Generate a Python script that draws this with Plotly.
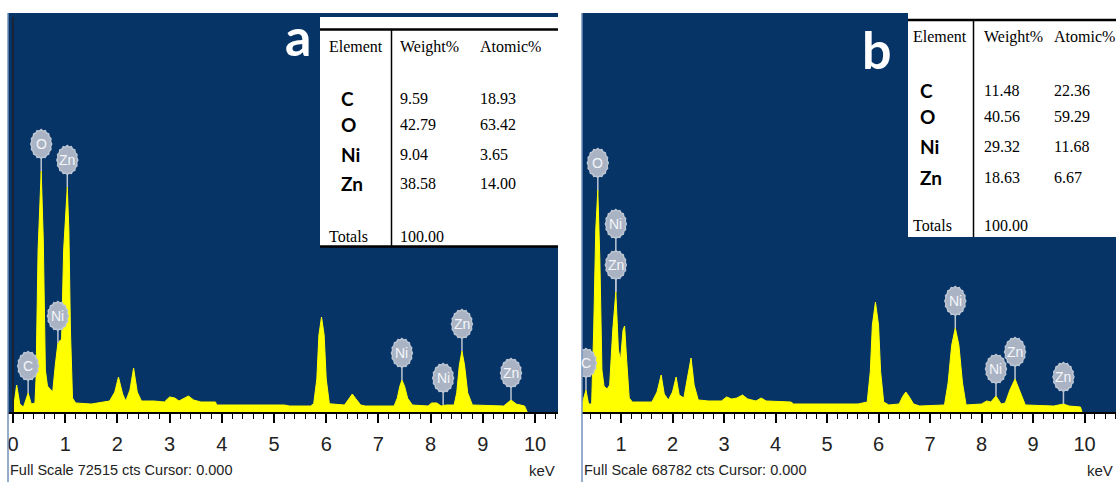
import math
import plotly.graph_objects as go

W, H = 1116, 482

# ---------------- data ----------------
full_scale_a = 72515
full_scale_b = 68782

energy_a = [0.00, 0.07, 0.13, 0.20, 0.29, 0.35, 0.42, 0.44, 0.48, 0.54, 0.58, 0.62, 0.66,
            0.71, 0.76, 0.81, 0.86, 0.91, 0.93, 0.97, 1.04, 1.07, 1.10, 1.14, 1.20,
            1.50, 1.70, 1.85, 1.95, 2.02, 2.10, 2.16, 2.24, 2.31, 2.38, 2.46, 2.70,
            2.90, 3.00, 3.10, 3.18, 3.26, 3.36, 3.46, 3.60, 3.88, 3.90, 5.20, 5.30,
            5.70, 5.76, 5.82, 5.86, 5.91, 5.96, 6.00, 6.06, 6.35, 6.44, 6.50, 6.56,
            6.66, 6.75, 7.30, 7.36, 7.41, 7.45, 7.50, 7.56, 7.65, 7.95, 8.02, 8.12,
            8.20, 8.30, 8.45, 8.50, 8.55, 8.60, 8.65, 8.71, 8.80, 9.40, 9.48, 9.54,
            9.64, 9.80, 9.85]
counts_a = [0, 4900, 1450, 900, 3450, 1450, 1640, 5810, 29430, 43790, 31250, 7630, 4720,
            4180, 3630, 8540, 12540, 13080, 13080, 29430, 40880, 33070, 14900, 2540, 1640,
            1450, 1820, 2000, 3630, 6360, 3270, 2000, 4000, 7990, 3630, 2000, 2000,
            1820, 2730, 2540, 2000, 2360, 2910, 2180, 1820, 1820, 1270, 1270, 1090,
            1090, 1500, 6000, 14000, 17260, 14000, 6000, 1500, 1270, 2500, 3270, 2500,
            1270, 1090, 1090, 2500, 4700, 5810, 4700, 2500, 1270, 1090, 1640, 1640,
            1090, 1270, 1270, 3500, 8500, 11080, 8500, 3500, 1270, 1090, 1640, 2180,
            1450, 1090, 0]

energy_b = [0.24, 0.28, 0.32, 0.37, 0.43, 0.47, 0.51, 0.55, 0.59, 0.63, 0.67, 0.73, 0.78,
            0.84, 0.90, 0.95, 0.99, 1.04, 1.07, 1.11, 1.16, 1.22, 1.60, 1.70, 1.78,
            1.84, 1.92, 2.00, 2.07, 2.13, 2.22, 2.30, 2.36, 2.42, 2.50, 2.70, 2.95,
            3.05, 3.15, 3.25, 3.36, 3.46, 3.62, 3.72, 3.82, 4.30, 4.35, 5.60, 5.78,
            5.84, 5.88, 5.94, 6.00, 6.04, 6.10, 6.20, 6.40, 6.47, 6.53, 6.59, 6.68,
            6.80, 7.28, 7.35, 7.42, 7.49, 7.56, 7.63, 7.70, 8.00, 8.10, 8.18, 8.28,
            8.38, 8.46, 8.55, 8.65, 8.75, 8.85, 9.40, 9.50, 9.59, 9.70, 9.92, 9.95]
counts_b = [1210, 2410, 3790, 1380, 1380, 14140, 31380, 38270, 26200, 7240, 4480, 3970, 4650,
            14140, 20690, 10690, 8960, 14140, 14830, 8960, 2410, 1720, 1720, 3450, 6380,
            3100, 2070, 3450, 6030, 2930, 2410, 6380, 9310, 4650, 2070, 1900, 1900,
            2590, 2240, 2410, 2930, 2240, 1900, 2410, 1900, 1720, 1380, 1380, 1720,
            7000, 15000, 18960, 15000, 7000, 1720, 1210, 1380, 2700, 3450, 2700, 1380,
            1030, 1210, 5000, 11500, 14480, 11500, 5000, 1210, 1380, 1900, 1720, 2760,
            1380, 1550, 3790, 5690, 3450, 1210, 1030, 1210, 1380, 1030, 860, 0]

# peak identification labels
label_el_a = ["C", "O", "Ni", "Zn", "Ni", "Ni", "Zn", "Zn"]
label_kev_a = [0.29, 0.54, 0.86, 1.04, 7.45, 8.24, 8.60, 9.54]
label_cts_a = [3450, 43790, 12540, 40880, 5810, 1270, 11080, 2180]
label_lvl_a = [0, 0, 0, 0, 0, 0, 0, 0]

label_el_b = ["C", "O", "Ni", "Zn", "Ni", "Ni", "Zn", "Zn"]
label_kev_b = [0.32, 0.55, 0.90, 0.90, 7.49, 8.28, 8.65, 9.59]
label_cts_b = [3790, 38270, 20690, 20690, 14480, 2760, 5690, 1380]
label_lvl_b = [0, 0, 1, 0, 0, 0, 0, 0]

tick_kev = [0, 1, 2, 3, 4, 5, 6, 7, 8, 9, 10]
tick_txt = ["0", "1", "2", "3", "4", "5", "6", "7", "8", "9", "10"]

tbl_elements = ["C", "O", "Ni", "Zn"]
weight_a = ["9.59", "42.79", "9.04", "38.58"]
atomic_a = ["18.93", "63.42", "3.65", "14.00"]
weight_b = ["11.48", "40.56", "29.32", "18.63"]
atomic_b = ["22.36", "59.29", "11.68", "6.67"]
totals = "100.00"

# ---------------- styles ----------------
BLUE = "#073467"
YELLOW = "#ffff00"
GEAR_FILL = "#a9b3c3"
GEAR_LINE = "#bcc5d2"
NARROW = "Liberation Sans Narrow, Arial Narrow, Liberation Sans, Arial"
SERIF = "Liberation Serif, Times New Roman, serif"
BOLDSANS = "Lato, Open Sans, sans-serif"
TSZ = 16


def px(x):
    return x / W


def py(y):
    return 1 - y / H


fig = go.Figure()
fig.add_trace(go.Scatter(x=energy_a, y=counts_a, mode="lines", fill="tozeroy",
                         fillcolor=YELLOW, line=dict(color=YELLOW, width=1),
                         xaxis="x", yaxis="y", hoverinfo="skip", showlegend=False))
fig.add_trace(go.Scatter(x=energy_b, y=counts_b, mode="lines", fill="tozeroy",
                         fillcolor=YELLOW, line=dict(color=YELLOW, width=1),
                         xaxis="x2", yaxis="y2", hoverinfo="skip", showlegend=False))

axis_common = dict(showgrid=False, zeroline=False, showline=True, linecolor="black",
                   linewidth=2, ticks="outside", ticklen=9, tickwidth=1.5,
                   tickcolor="black", tickvals=tick_kev, ticktext=tick_txt,
                   tickfont=dict(family=NARROW, size=20, color="#222"),
                   ticklabelstandoff=4,
                   minor=dict(dtick=0.2, tick0=0, ticks="outside", ticklen=5,
                              tickwidth=1, tickcolor="black"))
ydom = [py(412), py(13)]
fig.update_layout(
    width=W, height=H, margin=dict(l=0, r=0, t=0, b=0),
    paper_bgcolor="white", plot_bgcolor=BLUE, showlegend=False,
    xaxis=dict(domain=[px(8), px(558)], range=[-0.096, 10.44], anchor="y", **axis_common),
    yaxis=dict(domain=ydom, range=[0, full_scale_a], visible=False, anchor="x"),
    xaxis2=dict(domain=[px(582), 1], range=[0.243, 10.61], anchor="y2", **axis_common),
    yaxis2=dict(domain=ydom, range=[0, full_scale_b], visible=False, anchor="x2"),
)

shapes = []
annotations = []


def gear_path(cy, rx=10.5, ry=14.5, teeth=16):
    n = teeth * 2
    pts = []
    for i in range(n):
        t = 2 * math.pi * i / n
        k = 1.0 if i % 2 == 0 else 0.91
        pts.append((rx * k * math.sin(t), cy + ry * k * math.cos(t)))
    stem = f"M 0,0 L 0,{cy - ry * 0.9:.1f} "
    ring = "M " + " L ".join(f"{x:.2f},{y:.2f}" for x, y in pts) + " Z"
    return stem + ring


def add_labels(els, kevs, cts, lvls, xr, yr):
    order = sorted(range(len(els)), key=lambda i: -lvls[i])
    for i in order:
        cy = 27 + 41 * lvls[i]
        shapes.append(dict(type="path", xref=xr, yref=yr, xsizemode="pixel", ysizemode="pixel",
                           xanchor=kevs[i], yanchor=cts[i], path=gear_path(cy),
                           fillcolor=GEAR_FILL, line=dict(color=GEAR_LINE, width=1.5),
                           layer="above"))
        annotations.append(dict(xref=xr, yref=yr, x=kevs[i], y=cts[i], yshift=cy,
                                text=els[i], showarrow=False,
                                font=dict(family=NARROW, size=14, color="#f4f6fa")))


add_labels(label_el_a, label_kev_a, label_cts_a, label_lvl_a, "x", "y")
add_labels(label_el_b, label_kev_b, label_cts_b, label_lvl_b, "x2", "y2")

# vertical axis line at 0 keV in panel a
shapes.append(dict(type="line", xref="x", yref="y domain", x0=0, x1=0, y0=0, y1=0.99,
                   line=dict(color="#1a2434", width=2), layer="above"))

# panel left borders
for xb in (8, 582):
    shapes.append(dict(type="line", xref="paper", yref="paper", x0=px(xb), x1=px(xb),
                       y0=py(13), y1=0, line=dict(color="#7390bd", width=1.5), layer="above"))


def txt(x, y, s, family, size, color="black", xanchor="left"):
    annotations.append(dict(xref="paper", yref="paper", x=px(x), y=py(y), text=s,
                            showarrow=False, xanchor=xanchor, yanchor="middle",
                            font=dict(family=family, size=size, color=color)))


# ---- table a ----
shapes.append(dict(type="rect", xref="paper", yref="paper", x0=px(320), x1=px(558),
                   y0=py(246), y1=py(17), fillcolor="white", line=dict(width=0), layer="above"))
shapes.append(dict(type="line", xref="paper", yref="paper", x0=px(320), x1=px(558),
                   y0=py(29.5), y1=py(29.5), line=dict(color="black", width=2.5), layer="above"))
shapes.append(dict(type="line", xref="paper", yref="paper", x0=px(320), x1=px(558),
                   y0=py(246.5), y1=py(246.5), line=dict(color="black", width=2.5), layer="above"))
shapes.append(dict(type="line", xref="paper", yref="paper", x0=px(391.5), x1=px(391.5),
                   y0=py(30), y1=py(246), line=dict(color="black", width=1.5), layer="above"))
txt(327, 47, "Element", SERIF, TSZ)
txt(398, 47, "Weight%", SERIF, TSZ)
txt(478, 47, "Atomic%", SERIF, TSZ)
rows_a = [99, 125, 154, 183]
for r, el, w, a in zip(rows_a, tbl_elements, weight_a, atomic_a):
    txt(339, r, f"<b>{el}</b>", BOLDSANS, 19)
    txt(398, r, w, SERIF, TSZ)
    txt(478, r, a, SERIF, TSZ)
txt(327, 236, "Totals", SERIF, TSZ)
txt(398, 236, totals, SERIF, TSZ)

# ---- table b ----
shapes.append(dict(type="rect", xref="paper", yref="paper", x0=px(908), x1=1,
                   y0=py(237), y1=py(13), fillcolor="white", line=dict(width=0), layer="above"))
shapes.append(dict(type="line", xref="paper", yref="paper", x0=px(908), x1=1,
                   y0=py(20), y1=py(20), line=dict(color="black", width=2.5), layer="above"))
shapes.append(dict(type="line", xref="paper", yref="paper", x0=px(973.5), x1=px(973.5),
                   y0=py(20), y1=py(237), line=dict(color="black", width=1.5), layer="above"))
txt(911, 37, "Element", SERIF, TSZ)
txt(982, 37, "Weight%", SERIF, TSZ)
txt(1052, 37, "Atomic%", SERIF, TSZ)
rows_b = [90, 116, 146, 177]
for r, el, w, a in zip(rows_b, tbl_elements, weight_b, atomic_b):
    txt(918, r, f"<b>{el}</b>", BOLDSANS, 19)
    txt(982, r, w, SERIF, TSZ)
    txt(1052, r, a, SERIF, TSZ)
txt(911, 225, "Totals", SERIF, TSZ)
txt(982, 225, totals, SERIF, TSZ)

# ---- panel letters ----
txt(298, 36, "<b>a</b>", BOLDSANS, 52, color="white", xanchor="center")
txt(877, 49, "<b>b</b>", BOLDSANS, 52, color="white", xanchor="center")

# ---- footers ----
txt(8, 470, f"Full Scale {full_scale_a} cts Cursor: 0.000", NARROW, 14.5, color="#222")
txt(557, 470, "keV", NARROW, 15, color="#222", xanchor="right")
txt(582, 470, f"Full Scale {full_scale_b} cts Cursor: 0.000", NARROW, 14.5, color="#222")
txt(1115, 470, "keV", NARROW, 15, color="#222", xanchor="right")

fig.update_layout(shapes=shapes, annotations=annotations)
fig.write_html("out.html")
